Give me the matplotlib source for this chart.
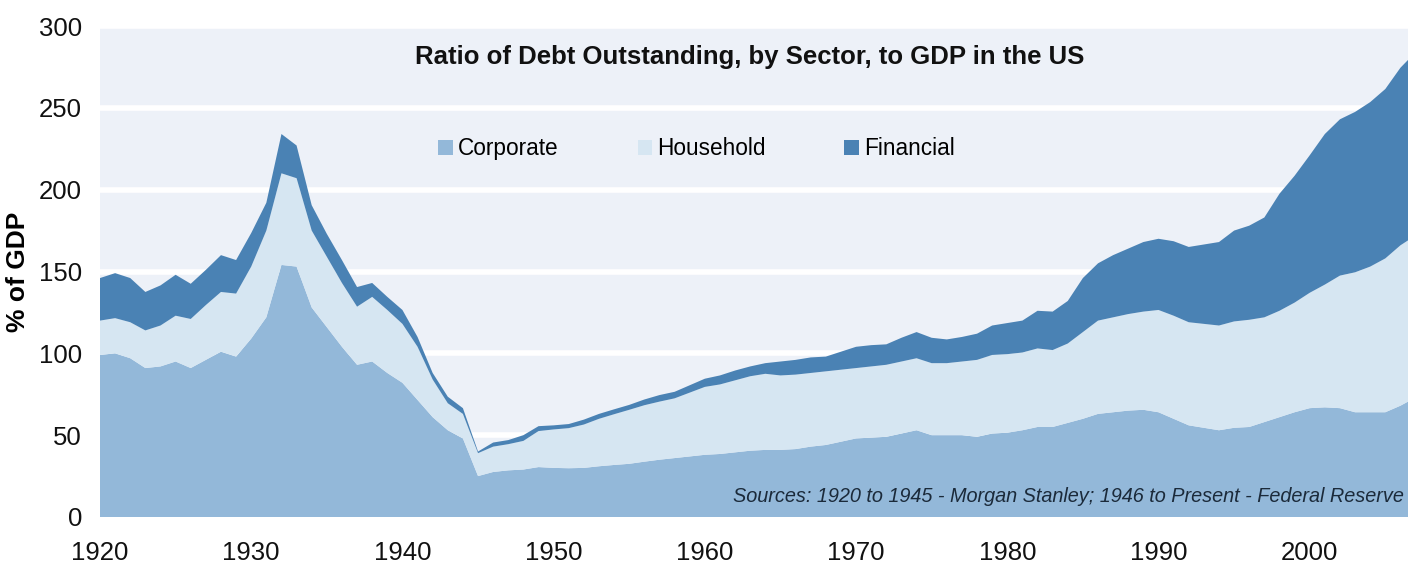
import numpy as np
import matplotlib
matplotlib.use("Agg")
import matplotlib.pyplot as plt
from matplotlib.patches import Patch

#-----data (% of GDP)-----#
years = list(range(1920, 2008))

corporate = [
    99, 100, 97, 91, 92, 95, 91, 96, 101, 98,            # 1920s
    109, 122, 154, 153, 128, 116, 104, 93, 95, 88,       # 1930s
    82, 71.5, 61, 53, 48, 25, 27.5, 28.5, 29, 30.5,      # 1940s
    30, 29.8, 30, 31, 31.8, 32.5, 33.8, 35, 36, 37,      # 1950s
    38, 38.5, 39.5, 40.5, 41, 41, 41.5, 43, 44, 46,      # 1960s
    48, 48.5, 49, 51, 53, 50, 50, 50, 49, 51,            # 1970s
    51.5, 53, 55, 55, 57.5, 60, 63, 64, 65, 65.5,        # 1980s
    64, 60, 56, 54.5, 53, 54.5, 55, 58, 61, 64,          # 1990s
    66.5, 67, 66.5, 64, 64, 64, 68, 73,                  # 2000s
]

household = [
    21, 21.5, 22, 23, 25, 28, 30, 33.5, 36.5, 38.5,
    44, 53, 56, 54, 47, 43, 39, 35.5, 39.5, 38.5,
    36, 32.5, 23, 16.5, 15, 14, 15.5, 16, 17.5, 22,
    23.5, 24.5, 26.5, 29, 31, 33, 34.5, 35.5, 36.5, 39,
    41.5, 42.5, 44, 45.5, 46.5, 45.5, 45.5, 45, 45, 44,
    43, 43.5, 44, 44, 44, 44, 44, 45, 47, 48,
    48, 47.5, 48, 47, 48.5, 53, 57, 58, 59, 60,
    62.5, 63, 63, 63.5, 64, 65, 65.5, 64, 65, 67,
    70.5, 75, 81, 85.5, 89, 94, 98, 99,
]

financial = [
    26, 27.5, 27, 23.5, 24.5, 25, 21.5, 21.5, 22.5, 20.5,
    20.5, 17, 24, 20, 15.5, 14, 14, 12, 8.5, 8,
    8.5, 6, 4, 4, 3.5, 1, 2.5, 2.5, 3.5, 3,
    2.5, 2.5, 3, 3, 3, 3, 3.5, 4, 4, 4.5,
    5, 5.5, 6, 6, 6.5, 8.5, 9, 9.5, 9, 11,
    13, 13, 12.5, 14.5, 16, 15.5, 14.5, 15, 16, 18,
    19, 19.5, 23, 23.5, 26, 33, 35, 38, 40, 42.5,
    43.5, 45.5, 46, 48.5, 51, 55.5, 57.5, 61, 71.5, 77.5,
    84, 92, 95.5, 98, 100.5, 103.5, 108.5, 112,
]

labels = ["Corporate", "Household", "Financial"]
colors = ["#93B8D9", "#D6E6F2", "#4A82B4"]

xticks = list(range(1920, 2001, 10))
yticks = list(range(0, 301, 50))

plt.rcParams["font.family"] = ["Liberation Sans", "DejaVu Sans"]

#-----figure and axes-----#
fig = plt.figure(figsize=(14.08, 5.70), dpi=100)
ax = fig.add_axes([100 / 1408, 1 - 517 / 570, 1308 / 1408, 491 / 570])
ax.set_facecolor("#EDF1F8")

ax.stackplot(years, corporate, household, financial, colors=colors, lw=0, zorder=2)

# white grid lines behind the areas
ax.set_yticks(yticks)
ax.set_xticks(xticks)
ax.yaxis.grid(True, color="white", lw=4, zorder=1)
ax.set_axisbelow(True)
ax.set_xlim(1920, 2006.5)
ax.set_ylim(0, 300)
for s in ax.spines.values():
    s.set_visible(False)
ax.tick_params(length=0, labelsize=18.5, colors="#111111")
ax.tick_params(axis="x", pad=17)
ax.tick_params(axis="y", pad=13)

ax.set_ylabel("% of GDP", fontsize=19, fontweight="bold", labelpad=6)

ax.text(0.497, 0.937, "Ratio of Debt Outstanding, by Sector, to GDP in the US",
        transform=ax.transAxes, ha="center", va="center", fontsize=18.5,
        fontweight="bold", color="#111111", zorder=5)

handles = [Patch(facecolor=c, edgecolor="none") for c in colors]
ax.legend(handles, labels, loc="center", bbox_to_anchor=(0.456, 0.75), ncol=3,
          frameon=False, fontsize=16.3, handlelength=0.65, handleheight=0.65,
          handletextpad=0.2, columnspacing=3.5)

ax.text(0.997, 0.042, "Sources: 1920 to 1945 - Morgan Stanley; 1946 to Present - Federal Reserve",
        transform=ax.transAxes, ha="right", va="center", fontsize=14.3,
        style="italic", color="#1B2A3A", zorder=5)

fig.savefig("out.png", dpi=100)
